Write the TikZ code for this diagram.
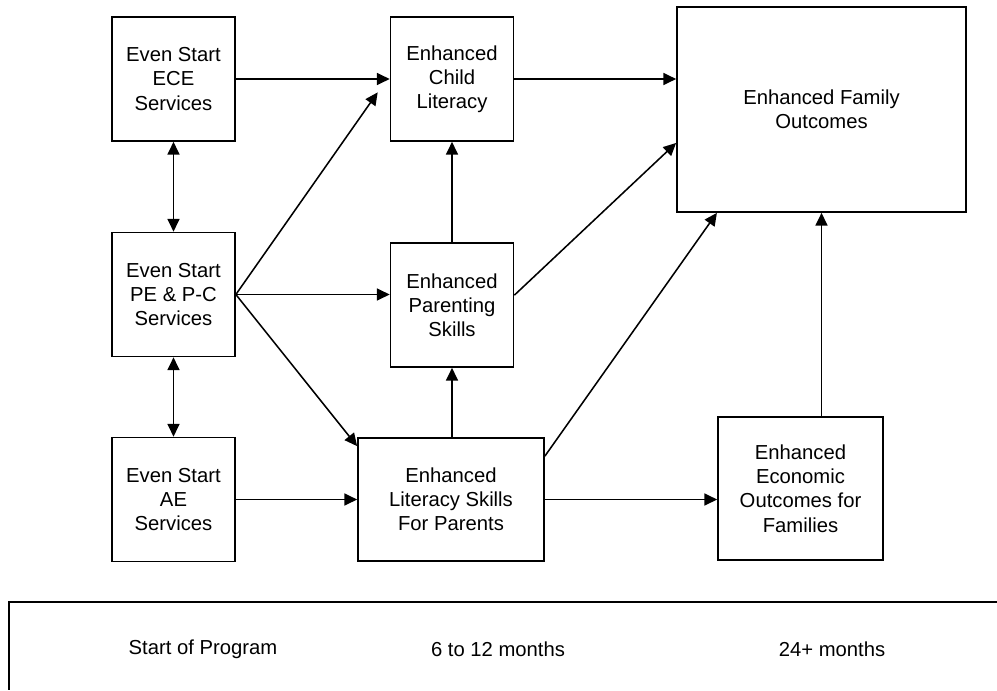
\documentclass[tikz,border=0pt]{standalone}
\usepackage{fontspec}
\setmainfont{Liberation Sans}
\usetikzlibrary{arrows.meta}

\begin{document}
\begin{tikzpicture}[x=0.025cm, y=-0.025cm,
  box/.style={draw, line width=1.2pt, align=center, inner sep=0pt,
    font=\fontsize{14.4}{17.2}\selectfont},
  small/.style={box, minimum width=3.075cm, minimum height=3.1cm},
  link/.style={line width=1.1pt, -{Triangle[length=9pt,width=8.5pt]}},
  both/.style={line width=1.1pt, {Triangle[length=9pt,width=8.5pt]}-{Triangle[length=9pt,width=8.5pt]}},
  period/.style={font=\fontsize{14.4}{17.2}\selectfont}]
\useasboundingbox (0,0) rectangle (997,690);

\node[small] (ece) at (173.5,79) {Even Start\\ECE\\Services};
\node[small] (pe) at (173.5,294.5) {Even Start\\PE \& P-C\\Services};
\node[small] (ae) at (173.5,499.5) {Even Start\\AE\\Services};

\node[small] (child) at (452,79) {Enhanced\\Child\\Literacy};
\node[small] (parent) at (452,305) {Enhanced\\Parenting\\Skills};
\node[box, minimum width=4.65cm, minimum height=3.075cm] (lit) at (451,499.5) {Enhanced\\Literacy Skills\\For Parents};

\node[box, minimum width=7.225cm, minimum height=5.125cm] (fam) at (821.5,109.5) {Enhanced Family\\Outcomes};
\node[box, minimum width=4.125cm, minimum height=3.575cm] (econ) at (800.5,488.5) {Enhanced\\Economic\\Outcomes for\\Families};

\draw[both] (ece.south) -- (pe.north);
\draw[both] (pe.south) -- (ae.north);

\draw[link] (ece.east) -- (child.west);
\draw[link] (child.east) -- (child.east -| fam.west);
\draw[link] (pe.east) -- ([xshift=-8.5pt,yshift=-9.5pt]child.west);
\draw[link] (pe.east) -- (pe.east -| parent.west);
\draw[link] (pe.east) -- ([yshift=-6.4pt]lit.north west);
\draw[link] (ae.east) -- (lit.west);
\draw[link] (parent.north) -- (child.south);
\draw[link] (lit.north -| parent.south) -- (parent.south);
\draw[link] ([yshift=7pt]parent.east) -- ([yshift=-23.8pt]fam.west);
\draw[link] ([yshift=-13.5pt]lit.north east) -- ([xshift=29pt]fam.south west);
\draw[link] (lit.east) -- (lit.east -| econ.west);
\draw[link] (econ.north -| fam.south) -- (fam.south);

\draw[line width=1.2pt] (997,602) -- (9,602) -- (9,690);
\node[period] (start) at (203,649) {Start of Program};
\node[period] (mid) at (498,649) {6 to 12 months};
\node[period] (late) at (832,649) {24+ months};
\end{tikzpicture}
\end{document}
